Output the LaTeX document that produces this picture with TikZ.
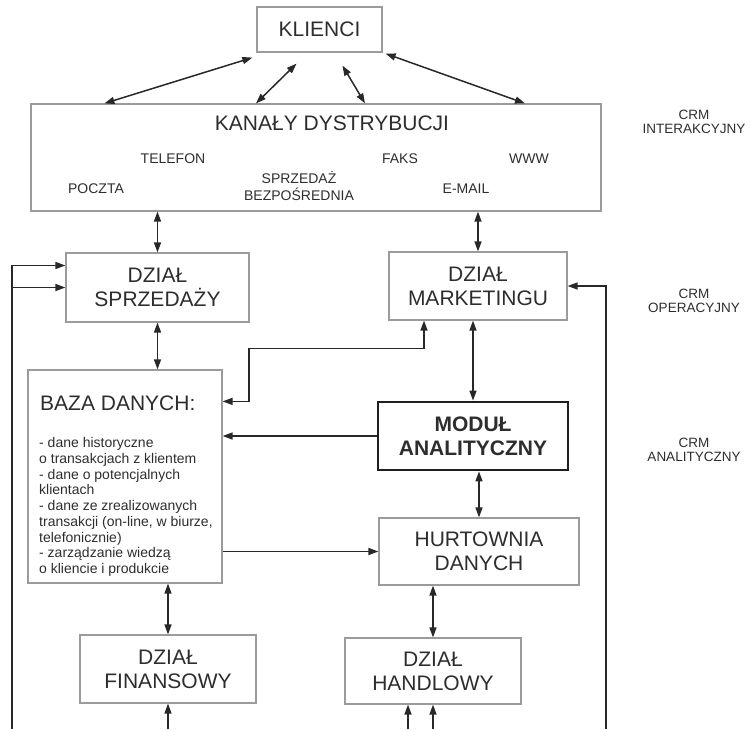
\documentclass[tikz,border=0pt]{standalone}
\usepackage{fontspec}
\setmainfont{Liberation Sans}
\usetikzlibrary{arrows.meta,calc}

\definecolor{framegray}{RGB}{155,155,155}
\definecolor{wiregray}{RGB}{40,40,40}
\definecolor{inkgray}{RGB}{45,45,45}

\begin{document}
\begin{tikzpicture}[
  x=1pt, y=-1pt,
  >={Triangle[length=10pt,width=7pt]},
  box/.style={draw=framegray, line width=1.2pt, align=center, inner sep=0pt, text=inkgray, font=\fontsize{21}{24}\selectfont},
  corebox/.style={box, draw=black!88, line width=2.8pt, font=\bfseries\fontsize{21}{24}\selectfont},
  bigtext/.style={text=inkgray, inner sep=0pt, font=\fontsize{21}{24}\selectfont},
  chan/.style={text=inkgray, inner sep=0pt, align=center, font=\fontsize{14}{16.5}\selectfont},
  listtext/.style={text=inkgray, inner sep=0pt, align=left, font=\fontsize{14}{15.7}\selectfont},
  side/.style={text=inkgray, inner sep=0pt, align=center, font=\fontsize{13.5}{13.5}\selectfont},
  link/.style={draw=wiregray, line width=1.5pt}
]
\useasboundingbox (0,0) rectangle (750,729);

% boxes
\node[box, minimum width=125pt, minimum height=45pt] (klienci) at (319.5,29.5) {KLIENCI};
\node[box, minimum width=570pt, minimum height=107pt] (kanaly) at (316,157.5) {};
\node[box, minimum width=183pt, minimum height=69pt] (sprzedaz) at (157.5,287.5) {DZIAŁ\\SPRZEDAŻY};
\node[box, minimum width=178pt, minimum height=68pt] (marketing) at (478,286) {DZIAŁ\\MARKETINGU};
\node[box, minimum width=194pt, minimum height=213pt] (baza) at (125,476.5) {};
\node[corebox, minimum width=190pt, minimum height=68pt] (modul) at (473,436) {MODUŁ\\ANALITYCZNY};
\node[box, minimum width=200pt, minimum height=67pt] (hurtownia) at (479,551.5) {HURTOWNIA\\DANYCH};
\node[box, minimum width=176pt, minimum height=68pt] (finansowy) at (168,669) {DZIAŁ\\FINANSOWY};
\node[box, minimum width=176pt, minimum height=66pt] (handlowy) at (433,671) {DZIAŁ\\HANDLOWY};

% texts inside the channel box
\node[bigtext, anchor=base] (kanalytitle) at (332,130.5) {KANAŁY DYSTRYBUCJI};
\node[chan, anchor=base] (telefon) at (173,163) {TELEFON};
\node[chan, anchor=base] (faks) at (400,163) {FAKS};
\node[chan, anchor=base] (www) at (529,163) {WWW};
\node[chan, anchor=base] (poczta) at (96,193) {POCZTA};
\node[chan, anchor=base] (email) at (466,193) {E-MAIL};
\node[chan] (direct) at (299,186) {SPRZEDAŻ\\BEZPOŚREDNIA};

% texts inside the database box
\node[bigtext, anchor=base west] (bazatitle) at (40,410.5) {BAZA DANYCH:};
\node[listtext, anchor=north west] (bazalist) at (39,437.5) {- dane historyczne\\o transakcjach z klientem\\- dane o potencjalnych\\klientach\\- dane ze zrealizowanych\\transakcji (on-line, w biurze,\\telefonicznie)\\- zarządzanie wiedzą\\o kliencie i produkcie};

% CRM levels
\node[side] (crmint) at (694,122) {CRM\\INTERAKCYJNY};
\node[side] (crmop) at (694,301) {CRM\\OPERACYJNY};
\node[side] (crman) at (694,450) {CRM\\ANALITYCZNY};

% clients <-> channels
\draw[link, <->] ([xshift=-4pt, yshift=-5pt]klienci.south west) -- ([xshift=74pt]kanaly.north west);
\draw[link, <->] ([xshift=-23pt, yshift=-11pt]klienci.south) -- ([xshift=-60pt]kanaly.north);
\draw[link, <->] ([xshift=23pt, yshift=-13pt]klienci.south) -- ([xshift=49pt]kanaly.north);
\draw[link, <->] ([xshift=3pt, yshift=-1pt]klienci.south east) -- ([xshift=209pt]kanaly.north);

% vertical links
\draw[link, <->] (kanaly.south -| sprzedaz) -- (sprzedaz);
\draw[link, <->] (kanaly.south -| marketing) -- (marketing);
\draw[link, <->] (sprzedaz) -- (sprzedaz |- baza.north);
\draw[link, <->] (marketing.south -| modul) -- (modul);
\draw[link, <->] (modul.south -| hurtownia) -- (hurtownia);
\draw[link, <->] (hurtownia.south -| handlowy) -- (handlowy);
\draw[link, <->] (baza.south -| finansowy) -- (finansowy);

% horizontal links
\draw[link, ->] (modul.west) -- (modul.west -| baza.east);
\draw[link, ->] (hurtownia.west -| baza.east) -- (hurtownia.west);
\draw[link, <->] ([xshift=-54pt]marketing.south) |- ++(-175,28) |- ([yshift=-32pt]baza.north east);

% feedback from below
\coordinate (leftfoot) at (12,729);
\coordinate (rightfoot) at (606,729);
\draw[link, ->] (leftfoot) |- ([yshift=22pt]sprzedaz.west);
\draw[link, ->] (leftfoot |- sprzedaz.west) -- (sprzedaz.west);
\draw[link, ->] (rightfoot) |- (marketing.east);
\draw[link, ->] (finansowy.south |- leftfoot) -- (finansowy);
\draw[link, ->] ([xshift=-25pt]handlowy.south |- leftfoot) -- ([xshift=-25pt]handlowy.south);
\draw[link, ->] (handlowy.south |- leftfoot) -- (handlowy);

\end{tikzpicture}
\end{document}
